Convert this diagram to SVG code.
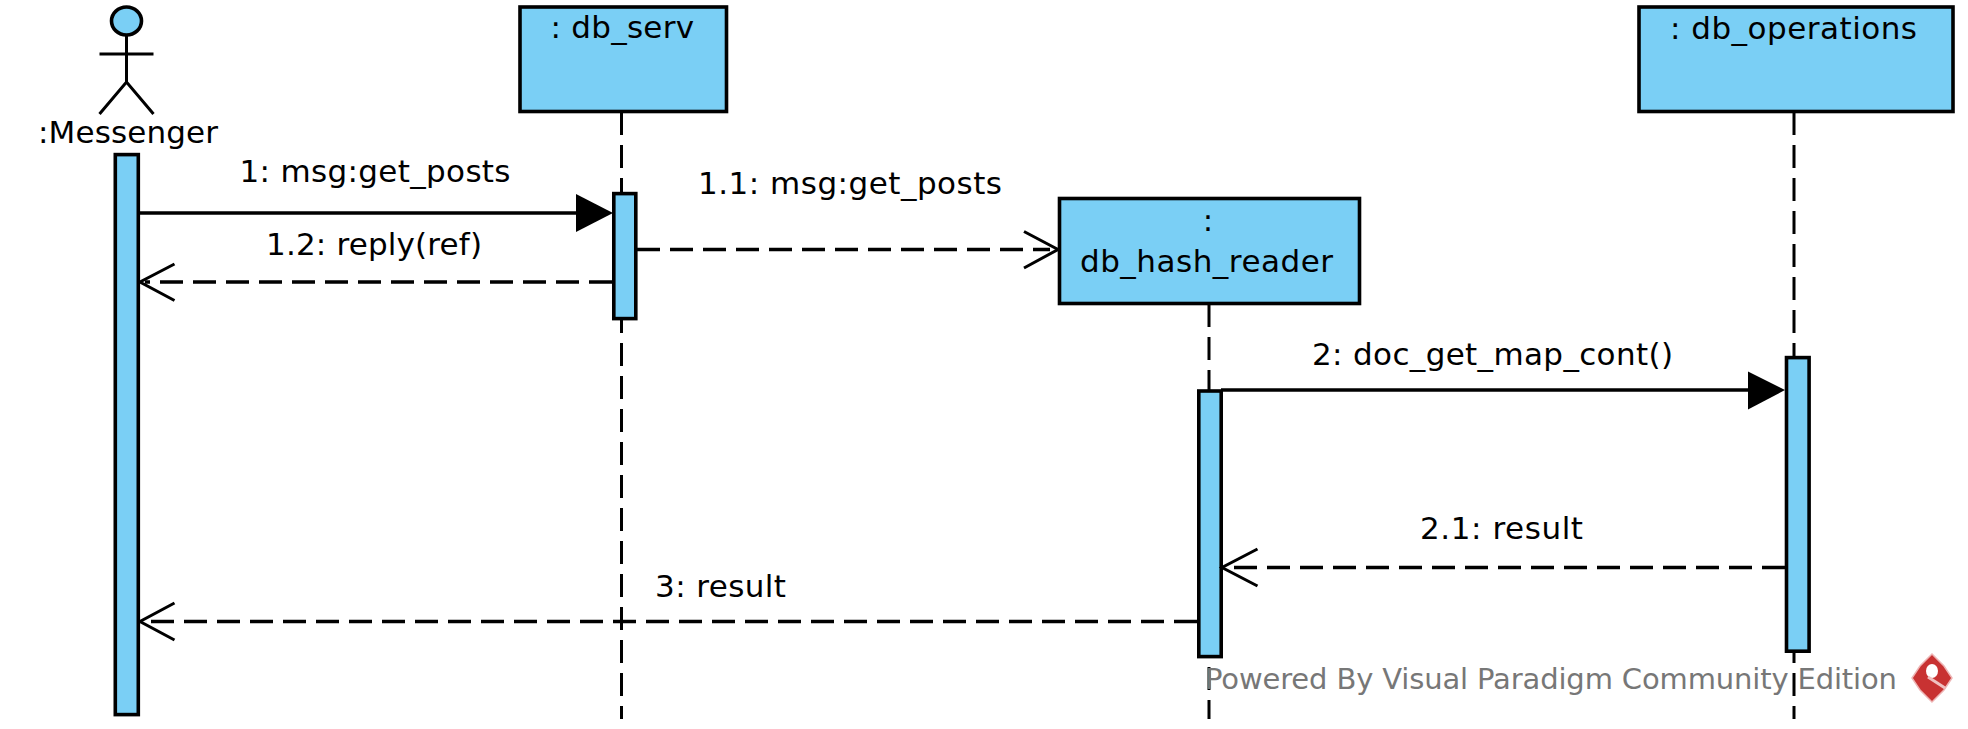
<svg xmlns="http://www.w3.org/2000/svg" width="1968" height="729" viewBox="0 0 1968 729">
<style>
.bx{fill:#7acff5;stroke:#000;stroke-width:3.600}
.ll{fill:none;stroke:#000;stroke-width:3;stroke-dasharray:23 10}
.m{fill:none;stroke:#000;stroke-width:3.500}
.d{fill:none;stroke:#000;stroke-width:3.500;stroke-dasharray:23 10}
.o{fill:none;stroke:#000;stroke-width:3}
.t{font-family:"DejaVu Sans",sans-serif;font-size:31px;fill:#000}
.c{text-anchor:middle}
.w{font-family:"DejaVu Sans",sans-serif;font-size:29px;fill:#777}
</style>
<rect width="1968" height="729" fill="#fff"/>
<g id="lifelines">
<path class="ll" d="M621.500 112V719"/>
<path class="ll" d="M1209 304V719"/>
<path class="ll" d="M1794 112V719"/>
</g>
<g id="actor-messenger">
<path class="o" d="M126.500 36V82M99.500 54H153.500M99.500 114L126.500 82L153.500 114"/>
<ellipse class="bx" cx="126.500" cy="21" rx="15" ry="14"/>
<text class="t" x="38" y="143" textLength="180">:Messenger</text>
<rect class="bx" x="115.300" y="154.600" width="23" height="560"/>
</g>
<g id="db_serv">
<rect class="bx" x="520" y="7" width="206.500" height="104.500"/>
<text class="t" x="550.500" y="38" textLength="143.500">: db_serv</text>
<rect class="bx" x="613.800" y="193.600" width="22" height="125"/>
</g>
<g id="db_hash_reader">
<rect class="bx" x="1059.500" y="198.500" width="300" height="105"/>
<text class="t c" x="1208" y="231">:</text>
<text class="t" x="1080" y="272" textLength="253">db_hash_reader</text>
<rect class="bx" x="1198.800" y="391" width="22.400" height="265.600"/>
</g>
<g id="db_operations">
<rect class="bx" x="1639" y="7" width="314" height="104.500"/>
<text class="t" x="1670" y="39" textLength="247">: db_operations</text>
<rect class="bx" x="1786.500" y="357.600" width="22.600" height="293.600"/>
</g>
<g id="connectors">
<path class="m" d="M139 213H580"/><path d="M576 194V232L613 213Z"/>
<path class="d" d="M612 282H145"/><path class="o" d="M174.500 264L140 282L174.500 300.500"/>
<path class="d" d="M637 249.500H1050"/><path class="o" d="M1024 231.500L1058 249.500L1024 268"/>
<path class="m" d="M1221 390H1752"/><path d="M1748 371.500V409.500L1785 390Z"/>
<path class="d" d="M1785 567.500H1228"/><path class="o" d="M1257.500 549L1222 567.500L1257.500 586"/>
<path class="d" d="M1197 621.500H145"/><path class="o" d="M174.500 603L140 621.500L174.500 640"/>
</g>
<g id="labels">
<text class="t" x="239.500" y="182" textLength="271">1: msg:get_posts</text>
<text class="t" x="266" y="255" textLength="216">1.2: reply(ref)</text>
<text class="t" x="698" y="194" textLength="304">1.1: msg:get_posts</text>
<text class="t" x="1312" y="365" textLength="361">2: doc_get_map_cont()</text>
<text class="t" x="1420" y="539" textLength="163">2.1: result</text>
<text class="t" x="655" y="597" textLength="131">3: result</text>
</g>
<g id="watermark">
<text class="w" x="1205" y="689" textLength="692">Powered By Visual Paradigm Community Edition</text>
<path d="M1932 654L1944 666L1952 678L1944 690L1932 702L1920 690L1912 678L1920 666Z" fill="#c83232" stroke="#eeb5b5" stroke-width="1.500"/>
<ellipse cx="1932" cy="671" rx="6" ry="7" fill="#fff"/>
<path d="M1928 677L1945 688" fill="none" stroke="#efc0c0" stroke-width="3"/>
</g>
</svg>
